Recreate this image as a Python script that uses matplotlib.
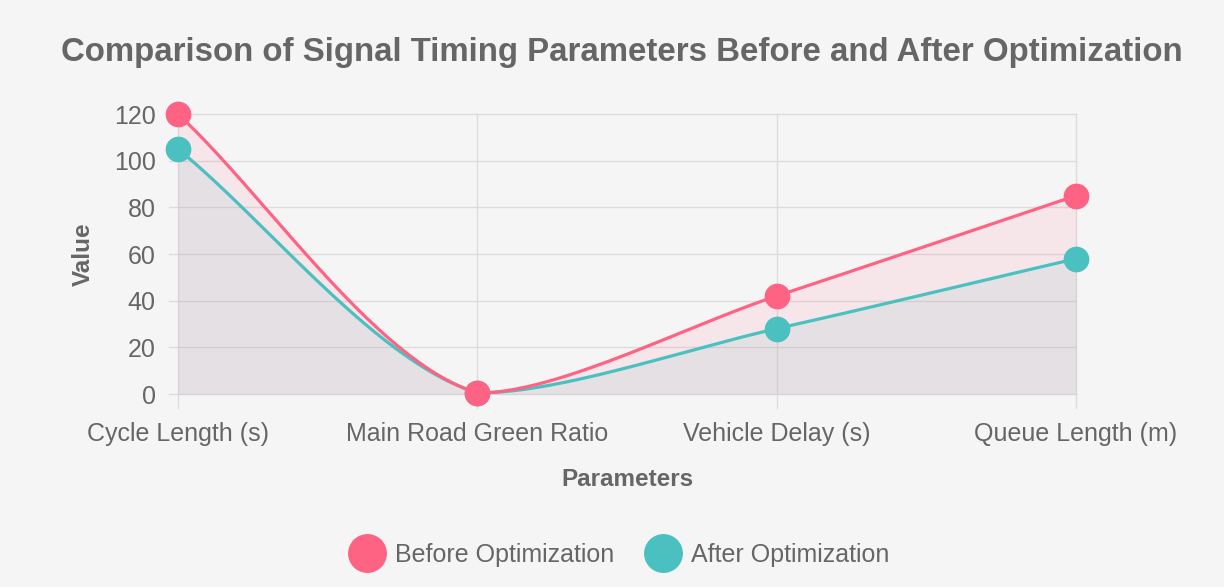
import numpy as np
import matplotlib.pyplot as plt
from matplotlib.lines import Line2D

categories = ['Cycle Length (s)', 'Main Road Green Ratio', 'Vehicle Delay (s)', 'Queue Length (m)']
before = [120, 0.45, 42, 85]
after = [105, 0.55, 28, 58]
y_ticks = [0, 20, 40, 60, 80, 100, 120]

PINK = '#ff6384'
TEAL = '#4bc0c0'
TXT = '#666666'
GRID = '#dcdcdc'
BG = '#f5f5f5'

plt.rcParams['font.family'] = ['Liberation Sans', 'DejaVu Sans']

W, H = 1224, 587
fig = plt.figure(figsize=(W / 100, H / 100), dpi=100, facecolor=BG)
left, right, top, bottom = 178, 1076, 114, 394
ax = fig.add_axes([left / W, 1 - bottom / H, (right - left) / W, (bottom - top) / H])
ax.set_facecolor('none')
ax.set_xlim(0, len(categories) - 1)
ax.set_ylim(0, 120)


def spline(xs, ys, tension=0.3, n=60):
    # chart.js style bezier spline, worked out in pixel space,
    # control points capped to the chart area
    pts = ax.transData.transform(np.column_stack([xs, ys]))
    lo = ax.transData.transform((0, 0))
    hi = ax.transData.transform((len(xs) - 1, 120))
    xmin, xmax = min(lo[0], hi[0]), max(lo[0], hi[0])
    ymin, ymax = min(lo[1], hi[1]), max(lo[1], hi[1])
    cps = []
    for i in range(len(pts)):
        p = pts[i - 1] if i > 0 else pts[i]
        c = pts[i]
        nx = pts[i + 1] if i < len(pts) - 1 else pts[i]
        d01 = np.hypot(*(c - p))
        d12 = np.hypot(*(nx - c))
        tot = d01 + d12
        s01 = d01 / tot if tot else 0
        s12 = d12 / tot if tot else 0
        cp1 = c - tension * s01 * (nx - p)
        cp2 = c + tension * s12 * (nx - p)
        cp1 = np.array([np.clip(cp1[0], xmin, xmax), np.clip(cp1[1], ymin, ymax)])
        cp2 = np.array([np.clip(cp2[0], xmin, xmax), np.clip(cp2[1], ymin, ymax)])
        cps.append((cp1, cp2))
    out = []
    t = np.linspace(0, 1, n)[:, None]
    for i in range(len(pts) - 1):
        P0, P1, P2, P3 = pts[i], cps[i][1], cps[i + 1][0], pts[i + 1]
        seg = (1 - t) ** 3 * P0 + 3 * (1 - t) ** 2 * t * P1 + 3 * (1 - t) * t ** 2 * P2 + t ** 3 * P3
        out.append(seg if i == 0 else seg[1:])
    data = ax.transData.inverted().transform(np.vstack(out))
    return data[:, 0], data[:, 1]


xs = np.arange(len(categories))

# grid
for yv in y_ticks:
    ax.plot([-0.03, len(categories) - 1], [yv, yv], color=GRID, lw=1, clip_on=False, zorder=0)
for xv in xs:
    ax.plot([xv, xv], [-6, 120], color=GRID, lw=1, clip_on=False, zorder=0)

for vals, col, z in [(after, TEAL, 3), (before, PINK, 4)]:
    sx, sy = spline(xs, vals)
    ax.fill_between(sx, sy, 0, color=col, alpha=0.1, lw=0, zorder=1)
    ax.plot(sx, sy, color=col, lw=2.3, zorder=z, clip_on=False, solid_capstyle='round')
    ax.plot(xs, vals, 'o', color=col, ms=17.5, mec=col, zorder=z + 2, clip_on=False)

for s in ax.spines.values():
    s.set_visible(False)
ax.set_xticks(xs)
ax.set_xticklabels(categories, fontsize=18, color=TXT)
ax.set_yticks(y_ticks)
ax.set_yticklabels([str(v) for v in y_ticks], fontsize=18, color=TXT)
ax.tick_params(axis='x', length=0, pad=20)
ax.tick_params(axis='y', length=0, pad=16)
ax.set_xlabel('Parameters', fontsize=17.5, fontweight='bold', color=TXT, labelpad=16)
ax.set_ylabel('Value', fontsize=17.5, fontweight='bold', color=TXT, labelpad=14)

fig.text(622 / W, 1 - 52 / H, 'Comparison of Signal Timing Parameters Before and After Optimization',
         ha='center', va='center', fontsize=23.8, fontweight='bold', color=TXT)

handles = [Line2D([], [], marker='o', ls='none', ms=27, color=PINK),
           Line2D([], [], marker='o', ls='none', ms=27, color=TEAL)]
fig.legend(handles, ['Before Optimization', 'After Optimization'], loc='center',
           bbox_to_anchor=(618 / W, 1 - 555 / H), ncol=2, frameon=False, fontsize=18,
           labelcolor=TXT, handletextpad=0.32, columnspacing=1.16, handlelength=1.6)

fig.savefig('out.png', dpi=100, facecolor=BG)
